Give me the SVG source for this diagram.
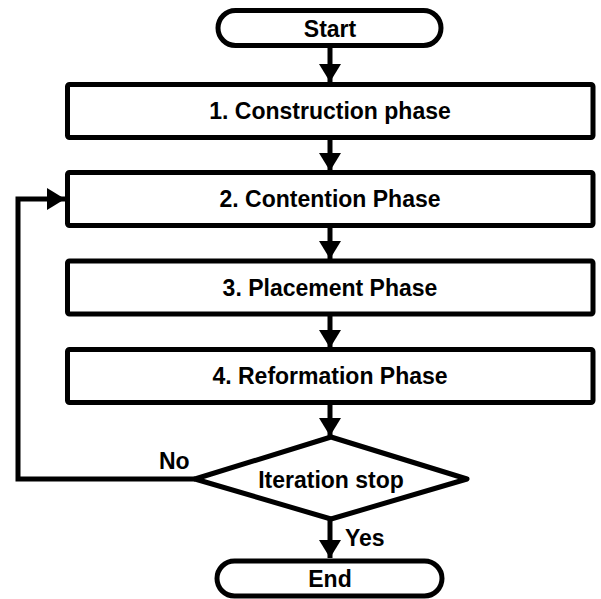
<svg xmlns="http://www.w3.org/2000/svg" width="601" height="599" viewBox="0 0 601 599">
<style>
.s{fill:#fff;stroke:#000;stroke-width:5;stroke-linejoin:round}
.t{font-family:"Liberation Sans",Arial,sans-serif;font-weight:bold;font-size:23px;fill:#000;text-anchor:middle}
.l{font-family:"Liberation Sans",Arial,sans-serif;font-weight:bold;font-size:23px;fill:#000}
.c{fill:none;stroke:#000;stroke-width:5}
</style>
<defs>
<marker id="ah" markerUnits="userSpaceOnUse" markerWidth="20" markerHeight="22" refX="18" refY="11" orient="auto">
<path d="M0,0 L18,11 L0,22 Z" fill="#000"/>
</marker>
</defs>
<rect width="601" height="599" fill="#fff"/>
<g id="connectors">
<line class="c" x1="330" y1="48" x2="330" y2="82" marker-end="url(#ah)"/>
<line class="c" x1="330" y1="138" x2="330" y2="171" marker-end="url(#ah)"/>
<line class="c" x1="330" y1="226" x2="330" y2="259" marker-end="url(#ah)"/>
<line class="c" x1="330" y1="314" x2="330" y2="348" marker-end="url(#ah)"/>
<line class="c" x1="330" y1="403" x2="330" y2="436" marker-end="url(#ah)"/>
<line class="c" x1="330" y1="520" x2="330" y2="558" marker-end="url(#ah)"/>
<polyline class="c" points="195,479 18,479 18,199 65,199" marker-end="url(#ah)"/>
</g>
<g id="start">
<rect class="s" x="218" y="10.5" width="223" height="35" rx="17.5"/>
<text class="t" x="330" y="37">Start</text>
</g>
<g id="construction">
<rect class="s" x="67.5" y="84.5" width="525.5" height="53" rx="2"/>
<text class="t" x="330" y="119">1. Construction phase</text>
</g>
<g id="contention">
<rect class="s" x="67.5" y="172.5" width="525.5" height="53" rx="2"/>
<text class="t" x="330" y="207">2. Contention Phase</text>
</g>
<g id="placement">
<rect class="s" x="67.5" y="261" width="525.5" height="53" rx="2"/>
<text class="t" x="330" y="295.5">3. Placement Phase</text>
</g>
<g id="reformation">
<rect class="s" x="67.5" y="349.5" width="525.5" height="53" rx="2"/>
<text class="t" x="330" y="384">4. Reformation Phase</text>
</g>
<g id="iteration">
<polygon class="s" points="331,437 467,479 331,519 195,479"/>
<text class="t" x="331" y="488">Iteration stop</text>
</g>
<g id="end">
<rect class="s" x="217" y="561" width="225" height="35" rx="17.5"/>
<text class="t" x="330" y="587">End</text>
</g>
<g id="labels">
<text class="l" x="159" y="469">No</text>
<text class="l" x="345" y="546">Yes</text>
</g>
</svg>
